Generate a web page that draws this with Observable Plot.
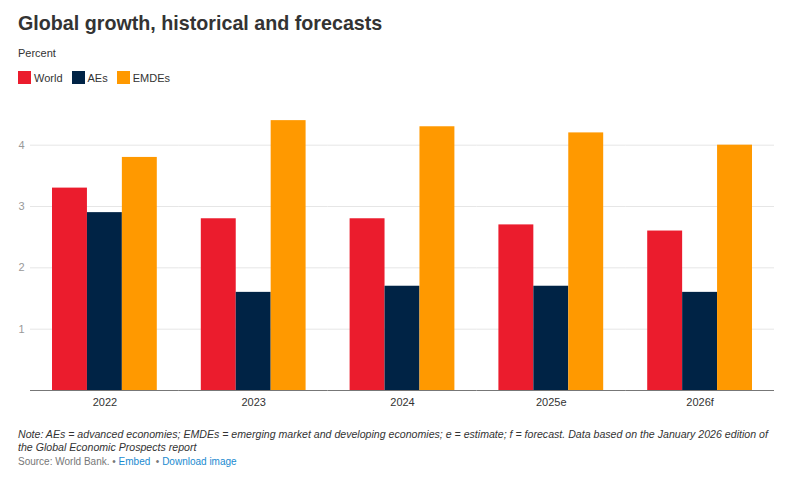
<!DOCTYPE html>
<html>
<head>
<meta charset="utf-8">
<script src="https://cdn.jsdelivr.net/npm/d3@7"></script>
<script src="https://cdn.jsdelivr.net/npm/@observablehq/plot@0.6"></script>
<style>
  body { margin:0; background:#fff; font-family:"Liberation Sans", Arial, sans-serif; }
  #title { position:absolute; left:18px; top:12px; font-size:19.7px; font-weight:bold; color:#333; }
  #sub { position:absolute; left:18px; top:47px; font-size:11px; color:#333; }
  #legend { position:absolute; left:18px; top:71px; font-size:11px; color:#333; display:flex; gap:9px; }
  #legend span.item { display:flex; align-items:center; }
  #legend span.sw { display:inline-block; width:13px; height:13px; margin-right:3px; }
  #chart { position:absolute; left:0; top:95px; }
  #note { position:absolute; left:18px; top:428px; font-size:10.6px; font-style:italic; color:#333; line-height:13px; width:752px; }
  #source { position:absolute; left:18px; top:456px; font-size:10px; color:#777; }
  #source a { color:#1a8ad0; text-decoration:none; }
</style>
</head>
<body>
<div id="title">Global growth, historical and forecasts</div>
<div id="sub">Percent</div>
<div id="legend"></div>
<div id="chart"></div>
<div id="note">Note: AEs = advanced economies; EMDEs = emerging market and developing economies; e = estimate; f = forecast. Data based on the January 2026 edition of the Global Economic Prospects report</div>
<div id="source">Source: World Bank. • <a>Embed</a> &nbsp;• <a>Download image</a></div>
<script>
const years = ["2022", "2023", "2024", "2025e", "2026f"];
const series = ["World", "AEs", "EMDEs"];
const colors = ["#EB1C2D", "#002345", "#FF9900"];
const world = [3.3, 2.8, 2.8, 2.7, 2.6];
const aes = [2.9, 1.6, 1.7, 1.7, 1.6];
const emdes = [3.8, 4.4, 4.3, 4.2, 4.0];
const yTicks = [1, 2, 3, 4];

const valuesBySeries = {World: world, AEs: aes, EMDEs: emdes};
const data = [];
years.forEach((yr, i) => {
  series.forEach(s => data.push({year: yr, series: s, value: valuesBySeries[s][i]}));
});

const legend = document.getElementById("legend");
series.forEach((s, i) => {
  const it = document.createElement("span");
  it.className = "item";
  it.innerHTML = `<span class="sw" style="background:${colors[i]}"></span>${s}`;
  legend.appendChild(it);
});

const chart = Plot.plot({
  width: 796,
  height: 320,
  marginLeft: 30,
  marginRight: 22,
  marginTop: 19,
  marginBottom: 25,
  style: {fontFamily: "Liberation Sans, Arial, sans-serif", fontSize: "11px"},
  fx: {domain: years, padding: 0, label: null, round: false},
  x: {domain: series, paddingInner: 0, paddingOuter: 0.63, round: false, axis: null},
  y: {domain: [0, 4.5], label: null},
  color: {domain: series, range: colors},
  marks: [
    Plot.gridY(yTicks, {stroke: "#e6e6e6", strokeOpacity: 1}),
    Plot.barY(data, {fx: "year", x: "series", y: "value", fill: "series", inset: 0}),
    Plot.ruleY([0], {stroke: "#777", strokeWidth: 1.2}),
    Plot.axisY(yTicks, {tickSize: 0, tickPadding: 6, fill: "#999", label: null, tickFormat: d3.format("d")}),
    Plot.axisFx({anchor: "bottom", tickSize: 0, tickPadding: 8, fill: "#333", label: null})
  ]
});
document.getElementById("chart").appendChild(chart);
</script>
</body>
</html>
